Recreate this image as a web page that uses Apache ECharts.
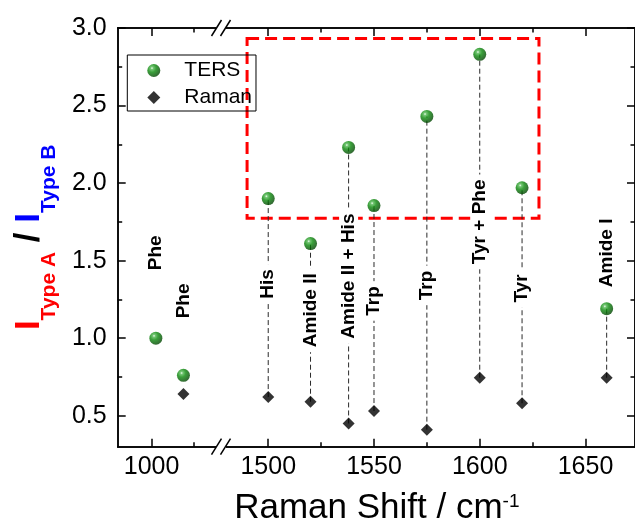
<!DOCTYPE html>
<html><head><meta charset="utf-8">
<script src="https://cdn.jsdelivr.net/npm/echarts@6/dist/echarts.min.js"></script>
<style>html,body{margin:0;padding:0;background:#fff}#c{width:635px;height:525px}</style>
</head><body><div id="c"></div><script>
// ---- data ----
const peakPositions = [1002, 1015, 1500, 1520, 1538, 1550, 1575, 1600, 1620, 1660];
const tersRatio     = [1.00, 0.76, 1.90, 1.61, 2.23, 1.855, 2.43, 2.83, 1.97, 1.19];
const ramanRatio    = [null, 0.64, 0.62, 0.59, 0.45, 0.53, 0.41, 0.745, 0.58, 0.745];
const assignments   = ['Phe', 'Phe', 'His', 'Amide II', 'Amide II + His', 'Trp', 'Trp', 'Tyr + Phe', 'Tyr', 'Amide I'];
const assignmentAnchorY = [1.55, 1.24, 1.35, 1.18, 1.40, 1.24, 1.34, 1.75, 1.32, 1.55];
const xTicksLeft  = [1000];
const xMinorLeft  = [1020];
const xTicksRight = [1500, 1550, 1600, 1650];
const xMinorRight = [1525, 1575, 1625];
const yTicks = [0.5, 1.0, 1.5, 2.0, 2.5, 3.0];
const yMinor = [0.75, 1.25, 1.75, 2.25, 2.75];
const highlightX = [1490, 1628];
const highlightY = [1.773, 2.933];
const xRangeLeft  = [984, 1030.6];
const xRangeRight = [1479.8, 1673.4];
const yRange = [0.3, 3.0];
const breakAt = 1100;

// ---- layout / style ----
const FONT = 'Liberation Sans';
const G1 = {left: 117.7, top: 28, width: 98.8, height: 418.7};
const G2 = {left: 225.5, top: 28, width: 410.5, height: 418.7};

function xAx(grid, range, pos, ticks, len, labels) {
  return {
    type: 'value', gridIndex: grid, position: pos, min: range[0], max: range[1],
    axisLine: {show: true, onZero: false, lineStyle: {color: '#000', width: 1.5}},
    axisTick: {show: true, inside: true, length: len, customValues: ticks, lineStyle: {color: '#000', width: 1.5}},
    axisLabel: labels ? {show: true, customValues: ticks, fontSize: 25, fontFamily: FONT, color: '#000', margin: 8,
                         formatter: v => String(v)}
                      : {show: false},
    splitLine: {show: false}
  };
}
function yAx(grid, pos, ticks, len, labels, extra) {
  return Object.assign({
    type: 'value', gridIndex: grid, position: pos, min: yRange[0], max: yRange[1],
    axisLine: {show: true, onZero: false, lineStyle: {color: '#000', width: 1.5}},
    axisTick: {show: true, inside: true, length: len, customValues: ticks, lineStyle: {color: '#000', width: 1.5}},
    axisLabel: labels ? {show: true, customValues: ticks, fontSize: 25, fontFamily: FONT, color: '#000', margin: 11,
                         formatter: v => v.toFixed(1)}
                      : {show: false},
    splitLine: {show: false}
  }, extra || {});
}

const sphere = new echarts.graphic.RadialGradient(0.36, 0.32, 0.7, [
  {offset: 0, color: '#f0fff0'}, {offset: 0.15, color: '#52b852'},
  {offset: 0.45, color: '#0a880a'}, {offset: 1, color: '#004400'}
]);

function segment(isLeft) {
  const idx = peakPositions.map((x, i) => i).filter(i => (peakPositions[i] < breakAt) === isLeft);
  return {
    ters: idx.map(i => [peakPositions[i], tersRatio[i]]),
    raman: idx.filter(i => ramanRatio[i] != null).map(i => [peakPositions[i], ramanRatio[i]]),
    links: idx.filter(i => ramanRatio[i] != null && tersRatio[i] - ramanRatio[i] > 0.2)
              .map(i => [peakPositions[i], ramanRatio[i], tersRatio[i]]),
    labelPos: idx.map(i => [peakPositions[i], assignmentAnchorY[i]]),
    labelText: idx.map(i => assignments[i])
  };
}

function seriesFor(seg, xi, yi, withBox) {
  const s = [];
  s.push({
    type: 'custom', xAxisIndex: xi, yAxisIndex: yi, z: 2, silent: true,
    data: seg.links,
    encode: {x: 0, y: [1, 2]},
    renderItem: (params, api) => {
      const a = api.coord([api.value(0), api.value(1)]);
      const b = api.coord([api.value(0), api.value(2)]);
      return {type: 'line', shape: {x1: a[0], y1: a[1], x2: b[0], y2: b[1]},
              style: {stroke: '#2a2a2a', lineWidth: 1, lineDash: [5, 3]}};
    }
  });
  s.push({
    type: 'custom', xAxisIndex: xi, yAxisIndex: yi, z: 3, silent: true,
    data: seg.labelPos,
    encode: {x: 0, y: 1},
    renderItem: (params, api) => {
      const p = api.coord([api.value(0), api.value(1)]);
      return {type: 'text', x: p[0], y: p[1], rotation: Math.PI / 2,
              style: {text: seg.labelText[params.dataIndex], font: 'bold 19px "Liberation Sans"',
                      fill: '#000', align: 'center', verticalAlign: 'middle',
                      backgroundColor: '#fff', padding: [0, 5]}};
    }
  });
  const ters = {
    name: 'TERS', type: 'scatter', xAxisIndex: xi, yAxisIndex: yi, z: 5,
    symbol: 'circle', symbolSize: 13, itemStyle: {color: sphere},
    data: seg.ters
  };
  if (withBox) {
    ters.markArea = {
      silent: true,
      itemStyle: {color: 'rgba(0,0,0,0)', borderColor: '#ff0000', borderWidth: 3, borderType: [12, 6]},
      data: [[{coord: [highlightX[0], highlightY[1]]}, {coord: [highlightX[1], highlightY[0]]}]]
    };
  }
  s.push(ters);
  s.push({
    name: 'Raman', type: 'scatter', xAxisIndex: xi, yAxisIndex: yi, z: 4,
    symbol: 'diamond', symbolSize: 12, itemStyle: {color: '#000'},
    data: seg.raman
  });
  return s;
}

const left = segment(true), right = segment(false);
const bottomY = G1.top + G1.height, topY = G1.top;
const bx1 = G1.left + G1.width, bx2 = G2.left;
function slash(cx, cy) {
  return {type: 'line', shape: {x1: cx - 5, y1: cy + 8, x2: cx + 5, y2: cy - 8},
          style: {stroke: '#000', lineWidth: 1.5}, z: 100};
}

const chart = echarts.init(document.getElementById('c'), null, {renderer: 'canvas'});
chart.setOption({
  animation: false,
  backgroundColor: '#fff',
  grid: [Object.assign({containLabel: false}, G1), Object.assign({containLabel: false}, G2)],
  xAxis: [
    xAx(0, xRangeLeft, 'bottom', xTicksLeft, 8, true),
    xAx(0, xRangeLeft, 'bottom', xMinorLeft, 4.5, false),
    xAx(0, xRangeLeft, 'top', xTicksLeft, 8, false),
    xAx(0, xRangeLeft, 'top', xMinorLeft, 4.5, false),
    xAx(1, xRangeRight, 'bottom', xTicksRight, 8, true),
    xAx(1, xRangeRight, 'bottom', xMinorRight, 4.5, false),
    xAx(1, xRangeRight, 'top', xTicksRight, 8, false),
    xAx(1, xRangeRight, 'top', xMinorRight, 4.5, false)
  ],
  yAxis: [
    yAx(0, 'left', yTicks, 8, true, {
      name: '{ri|I}{rs|Type A}{sl| / }{bi|I}{bs|Type B}',
      nameLocation: 'middle', nameRotate: 90, nameGap: 66,
      nameTextStyle: {
        fontFamily: FONT,
        rich: {
          ri: {fontSize: 35, fontWeight: 'bold', color: '#ff0000', fontFamily: FONT, lineHeight: 40, verticalAlign: 'top'},
          rs: {fontSize: 21, fontWeight: 'bold', color: '#ff0000', fontFamily: FONT, lineHeight: 21, verticalAlign: 'top', padding: [27, 0, 0, 0]},
          sl: {fontSize: 35, fontWeight: 'bold', color: '#000', fontFamily: FONT, lineHeight: 40, verticalAlign: 'top'},
          bi: {fontSize: 35, fontWeight: 'bold', color: '#0000ff', fontFamily: FONT, lineHeight: 40, verticalAlign: 'top'},
          bs: {fontSize: 21, fontWeight: 'bold', color: '#0000ff', fontFamily: FONT, lineHeight: 21, verticalAlign: 'top', padding: [27, 0, 0, 0]}
        }
      }
    }),
    yAx(0, 'left', yMinor, 4.5, false),
    yAx(1, 'right', yTicks, 8, false),
    yAx(1, 'right', yMinor, 4.5, false)
  ],
  title: {
    text: 'Raman Shift / cm{sup|-1}',
    left: (G1.left + G2.left + G2.width) / 2, top: 488, padding: 0, textAlign: 'center',
    textStyle: {fontSize: 35, fontWeight: 'normal', fontFamily: FONT, color: '#000', lineHeight: 40,
      rich: {sup: {fontSize: 19, fontFamily: FONT, color: '#000', lineHeight: 19, verticalAlign: 'top', padding: [4, 0, 0, 0]}}}
  },
  legend: {
    orient: 'vertical', left: 127.3, top: 55, selectedMode: false,
    data: ['TERS', 'Raman'],
    itemWidth: 13, itemHeight: 13, itemGap: 6,
    padding: [5, 4, 3, 20],
    borderColor: '#000', borderWidth: 1,
    textStyle: {fontSize: 21, fontFamily: FONT, color: '#000', lineHeight: 21, padding: [0, 0, 0, 19]}
  },
  series: [].concat(seriesFor(left, 0, 0, false), seriesFor(right, 4, 2, true)),
  graphic: [
    {type: 'rect', shape: {x: bx1 - 0.5, y: bottomY - 3, width: bx2 - bx1 + 1, height: 6}, style: {fill: '#fff'}, z: 99},
    {type: 'rect', shape: {x: bx1 - 0.5, y: topY - 3, width: bx2 - bx1 + 1, height: 6}, style: {fill: '#fff'}, z: 99},
    slash(bx1, bottomY), slash(bx2, bottomY), slash(bx1, topY), slash(bx2, topY)
  ]
});
</script></body></html>
